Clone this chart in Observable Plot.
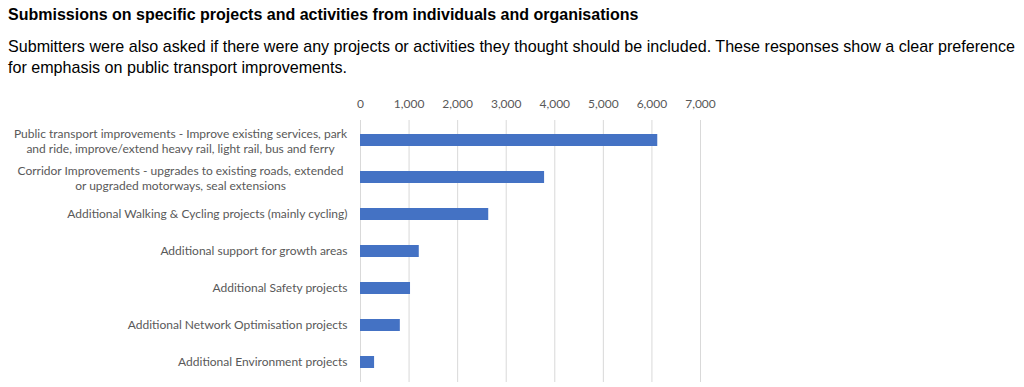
<!DOCTYPE html>
<html>
<head>
<meta charset="utf-8">
<script src="https://cdn.jsdelivr.net/npm/d3@7"></script>
<script src="https://cdn.jsdelivr.net/npm/@observablehq/plot@0.6"></script>
<style>
  html, body { margin: 0; padding: 0; background: #fff; }
  body { width: 1024px; height: 387px; overflow: hidden; position: relative; font-family: "Liberation Sans", Arial, sans-serif; }
  #title { position: absolute; left: 8px; top: 6px; font-size: 16px; font-weight: bold; color: #000; white-space: nowrap; }
  #subtitle { position: absolute; left: 8px; top: 36px; font-size: 16.1px; line-height: 21px; color: #000; white-space: nowrap; }
  #chart { position: absolute; left: 0; top: 88px; }
</style>
</head>
<body>
<div id="title">Submissions on specific projects and activities from individuals and organisations</div>
<div id="subtitle">Submitters were also asked if there were any projects or activities they thought should be included. These responses show a clear preference<br>for emphasis on public transport improvements.</div>
<div id="chart"></div>
<script>
const categories = [
  "Public transport improvements - Improve existing services, park\nand ride, improve/extend heavy rail, light rail, bus and ferry",
  "Corridor Improvements - upgrades to existing roads, extended\nor upgraded motorways, seal extensions",
  "Additional Walking & Cycling projects (mainly cycling)",
  "Additional support for growth areas",
  "Additional Safety projects",
  "Additional Network Optimisation projects",
  "Additional Environment projects"
];
const values = [6120, 3790, 2640, 1210, 1030, 820, 290];
const xTicks = [0, 1000, 2000, 3000, 4000, 5000, 6000, 7000];

const data = categories.map((c, i) => ({category: c, value: values[i]}));
const multi = categories.filter(c => c.includes("\n"));
const single = categories.filter(c => !c.includes("\n"));

const labelFont = "Lato, 'Open Sans', sans-serif";
const gray = "#595959";

const chart = Plot.plot({
  width: 1024,
  height: 299,
  marginTop: 32,
  marginBottom: 5,
  marginLeft: 360,
  marginRight: 324,
  style: {fontFamily: labelFont, fontSize: "12px", color: gray, background: "transparent"},
  x: {domain: [0, 7000], ticks: xTicks},
  y: {domain: categories, paddingInner: 0.67, paddingOuter: 0.335},
  marks: [
    Plot.gridX(xTicks, {stroke: "#d9d9d9", strokeOpacity: 1, strokeWidth: 1}),
    Plot.barX(data, {x: "value", y: "category", fill: "#4472c4"}),
    Plot.axisX({anchor: "top", ticks: xTicks, tickFormat: d3.format(","), tickSize: 0, tickPadding: 13, label: null, fill: gray, fontSize: 12}),
    Plot.axisY({ticks: single, tickSize: 0, tickPadding: 13, label: null, fill: gray, fontSize: 12, textAnchor: "end"}),
    Plot.axisY({ticks: multi, tickSize: 0, tickPadding: 13, label: null, fill: gray, fontSize: 12, textAnchor: "middle", dx: -167, lineHeight: 1.3})
  ]
});
document.getElementById("chart").appendChild(chart);
</script>
</body>
</html>
